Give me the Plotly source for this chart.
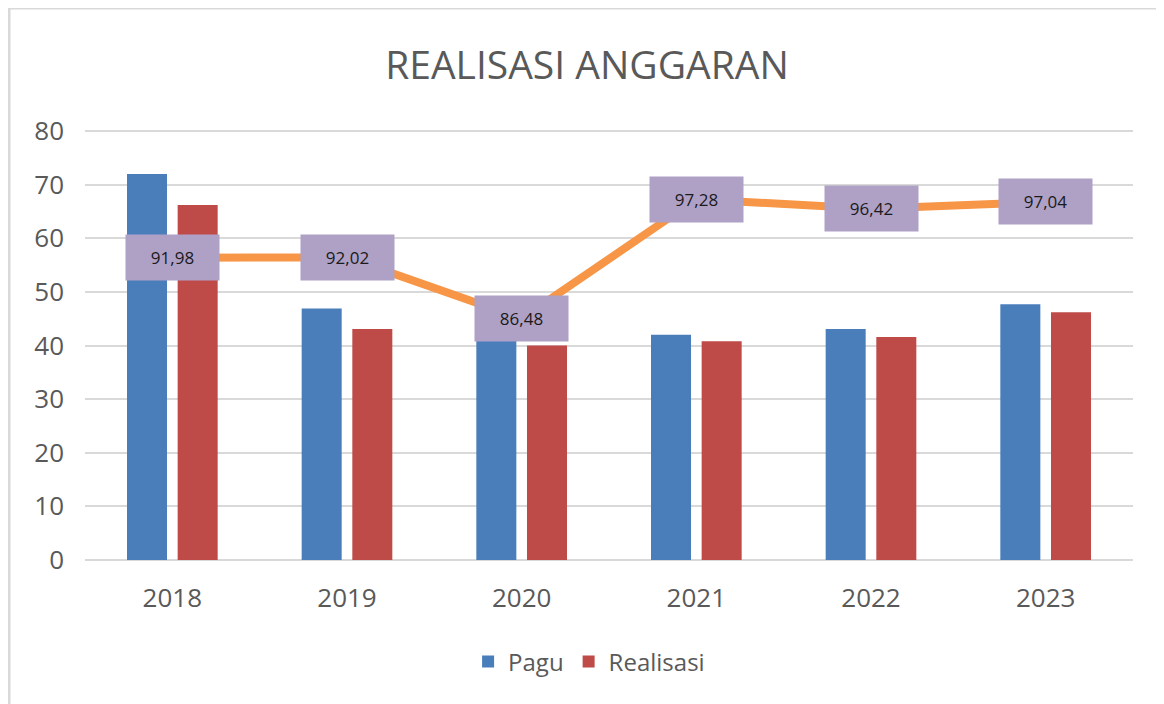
import plotly.graph_objects as go

years = ["2018", "2019", "2020", "2021", "2022", "2023"]
pagu = [72.0, 46.9, 46.2, 42.0, 43.1, 47.7]
realisasi = [66.2, 43.1, 40.0, 40.8, 41.6, 46.2]
persen = [91.98, 92.02, 86.48, 97.28, 96.42, 97.04]
y_ticks = [0, 10, 20, 30, 40, 50, 60, 70, 80]

FONT = "Open Sans"
GRAY = "#595959"

fig = go.Figure()
fig.add_trace(go.Bar(x=years, y=pagu, name="Pagu", marker=dict(color="#4A7EBB", line=dict(width=0))))
fig.add_trace(go.Bar(x=years, y=realisasi, name="Realisasi", marker=dict(color="#BE4B48", line=dict(width=0))))
fig.add_trace(go.Scatter(x=years, y=persen, yaxis="y2", mode="lines", showlegend=False,
                         line=dict(color="#F79646", width=8)))

# category axis: annotations are placed by category index
for i, v in enumerate(persen):
    fig.add_annotation(x=i, y=v, xref="x", yref="y2", text=f"{v:.2f}".replace(".", ","),
                       showarrow=False, bgcolor="#AFA0C6", width=91, height=43,
                       font=dict(family=FONT, size=17, color="#1a1a1a"))

fig.add_shape(type="rect", xref="paper", yref="paper", x0=-0.0725, x1=1.06, y0=-0.4, y1=1.2807,
              line=dict(color="#D9D9D9", width=3), fillcolor="rgba(0,0,0,0)", layer="below")

fig.update_layout(
    width=1164, height=704,
    margin=dict(l=77, r=39, t=121, b=152),
    paper_bgcolor="white", plot_bgcolor="white",
    title=dict(text="REALISASI ANGGARAN", x=0.4974, xanchor="center", y=1 - 57 / 704, yanchor="middle",
               font=dict(family=FONT, size=39, color=GRAY)),
    barmode="group", bargap=0.42, bargroupgap=0.21,
    font=dict(family=FONT, color=GRAY),
    legend=dict(orientation="h", x=0.481, xanchor="center", y=-0.2367, yanchor="middle",
                font=dict(family=FONT, size=24, color=GRAY), itemclick=False),
    xaxis=dict(type="category", range=[-0.5, 5.5], showgrid=False, showline=False, ticks="",
               tickfont=dict(family=FONT, size=26, color=GRAY), ticklabelstandoff=20, automargin=False),
    yaxis=dict(range=[0, 80.4], tickvals=y_ticks, showgrid=True, gridcolor="#D9D9D9", gridwidth=2,
               zeroline=True, zerolinecolor="#D9D9D9", zerolinewidth=2, showline=False,
               tickfont=dict(family=FONT, size=26, color=GRAY), ticklabelstandoff=20, automargin=False),
    yaxis2=dict(overlaying="y", side="right", range=[64.63, 103.64], visible=False, showgrid=False),
)

fig.write_html("out.html")
